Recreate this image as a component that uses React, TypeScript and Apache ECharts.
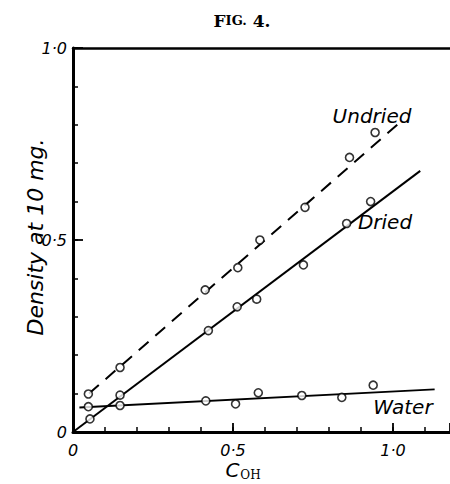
import React, { useEffect, useRef } from "react";
import * as echarts from "echarts";

const undriedX = [0.048, 0.147, 0.413, 0.515, 0.584, 0.725, 0.864, 0.944];
const undriedY = [0.099, 0.168, 0.37, 0.428, 0.5, 0.585, 0.715, 0.78];
const driedX = [0.053, 0.147, 0.423, 0.513, 0.574, 0.72, 0.855, 0.93];
const driedY = [0.034, 0.096, 0.264, 0.326, 0.346, 0.435, 0.543, 0.6];
const waterX = [0.048, 0.147, 0.415, 0.508, 0.579, 0.715, 0.84, 0.938];
const waterY = [0.066, 0.069, 0.081, 0.073, 0.102, 0.095, 0.09, 0.122];

const undriedLineX = [0.05, 1.02];
const undriedLineY = [0.1, 0.805];
const driedLineX = [0, 1.085];
const driedLineY = [0, 0.68];
const waterLineX = [0.02, 1.13];
const waterLineY = [0.064, 0.111];

const tickLabels: Record<string, string> = { "0": "0", "0.5": "0·5", "1": "1·0" };

const zip = (xs: number[], ys: number[]) => xs.map((x, i) => [x, ys[i]]);

const FONT = "DejaVu Sans";

function labelFor(v: number): string {
  const k = String(Math.round(v * 10) / 10);
  return tickLabels[k] ?? "";
}

export default function App() {
  const ref = useRef<HTMLDivElement>(null);
  useEffect(() => {
    if (!ref.current) return;
    const chart = echarts.init(ref.current, undefined, { renderer: "svg" });
    const scatter = (xs: number[], ys: number[]) => ({
      type: "scatter",
      data: zip(xs, ys),
      symbol: "circle",
      symbolSize: 8,
      itemStyle: { color: "#fff", borderColor: "#000", borderWidth: 1.6 },
      z: 5,
    });
    const line = (xs: number[], ys: number[], dashed: boolean) => ({
      type: "line",
      data: zip(xs, ys),
      symbol: "none",
      lineStyle: { color: "#000", width: 2, type: dashed ? [13, 9] : "solid" },
      z: 3,
    });
    const hiddenLine = { show: true, lineStyle: { color: "rgba(0,0,0,0)", width: 0 } };
    chart.setOption({
      animation: false,
      backgroundColor: "#fff",
      title: {
        text: "{a|F}{b|IG.}{a| 4.}",
        left: 237,
        top: 7,
        textAlign: "center",
        textStyle: {
          rich: {
            a: { fontFamily: "DejaVu Serif", fontSize: 17, color: "#000", fontWeight: "bold" },
            b: { fontFamily: "DejaVu Serif", fontSize: 13, color: "#000", fontWeight: "bold" },
          },
        },
      },
      grid: { left: 73, top: 48, width: 377, height: 384 },
      xAxis: [
        {
          type: "value",
          min: 0,
          max: 1.178,
          interval: 0.1,
          position: "bottom",
          splitLine: { show: false },
          axisLine: { lineStyle: { color: "#000", width: 3 } },
          axisTick: { inside: true, length: 5, lineStyle: { color: "#000", width: 1.5 } },
          axisLabel: {
            showMaxLabel: false,
            margin: 10,
            formatter: (v: number) => labelFor(v),
            fontFamily: FONT,
            fontStyle: "italic",
            fontSize: 16,
            color: "#000",
          },
        },
        {
          type: "value",
          min: 0,
          max: 1.178,
          interval: 0.5,
          position: "bottom",
          offset: 0,
          splitLine: { show: false },
          axisLine: hiddenLine,
          axisTick: { show: true, inside: true, length: 9, lineStyle: { color: "#000", width: 1.8 } },
          axisLabel: { show: false },
        },
        {
          type: "value",
          min: 0,
          max: 1.178,
          position: "top",
          splitLine: { show: false },
          axisLine: { lineStyle: { color: "#000", width: 2.5 } },
          axisTick: { show: false },
          axisLabel: { show: false },
        },
      ],
      yAxis: [
        {
          type: "value",
          min: 0,
          max: 1,
          interval: 0.1,
          position: "left",
          splitLine: { show: false },
          axisLine: { lineStyle: { color: "#000", width: 3 } },
          axisTick: { inside: true, length: 5, lineStyle: { color: "#000", width: 1.5 } },
          axisLabel: {
            margin: 6,
            formatter: (v: number) => labelFor(v),
            fontFamily: FONT,
            fontStyle: "italic",
            fontSize: 16,
            color: "#000",
          },
        },
        {
          type: "value",
          min: 0,
          max: 1,
          interval: 0.5,
          position: "left",
          offset: 0,
          splitLine: { show: false },
          axisLine: hiddenLine,
          axisTick: { show: true, inside: true, length: 10, lineStyle: { color: "#000", width: 1.8 } },
          axisLabel: { show: false },
        },
      ],
      graphic: [
        {
          type: "text",
          x: 35,
          y: 237,
          rotation: Math.PI / 2,
          style: {
            text: "Density at 10 mg.",
            fontFamily: FONT,
            fontStyle: "italic",
            fontSize: 22,
            fill: "#000",
            align: "center",
            verticalAlign: "middle",
          },
        },
        {
          type: "text",
          x: 243,
          y: 470,
          style: {
            text: "{c|C}{o|OH}",
            align: "center",
            verticalAlign: "middle",
            rich: {
              c: { fontFamily: FONT, fontStyle: "italic", fontSize: 20, fill: "#000", color: "#000" },
              o: { fontFamily: "DejaVu Serif", fontSize: 12, fill: "#000", color: "#000", padding: [10, 0, 0, 1] },
            },
          },
        },
        {
          type: "text",
          x: 372,
          y: 116,
          style: { text: "Undried", fontFamily: FONT, fontStyle: "italic", fontSize: 20, fill: "#000", align: "center", verticalAlign: "middle" },
        },
        {
          type: "text",
          x: 385,
          y: 222,
          style: { text: "Dried", fontFamily: FONT, fontStyle: "italic", fontSize: 20, fill: "#000", align: "center", verticalAlign: "middle" },
        },
        {
          type: "text",
          x: 403,
          y: 407,
          style: { text: "Water", fontFamily: FONT, fontStyle: "italic", fontSize: 20, fill: "#000", align: "center", verticalAlign: "middle" },
        },
      ],
      series: [
        line(undriedLineX, undriedLineY, true),
        line(driedLineX, driedLineY, false),
        line(waterLineX, waterLineY, false),
        scatter(undriedX, undriedY),
        scatter(driedX, driedY),
        scatter(waterX, waterY),
      ],
    });
    return () => chart.dispose();
  }, []);
  return (
    <div
      ref={ref}
      style={{ position: "fixed", left: 0, top: 0, width: 450, height: 484 }}
    />
  );
}
